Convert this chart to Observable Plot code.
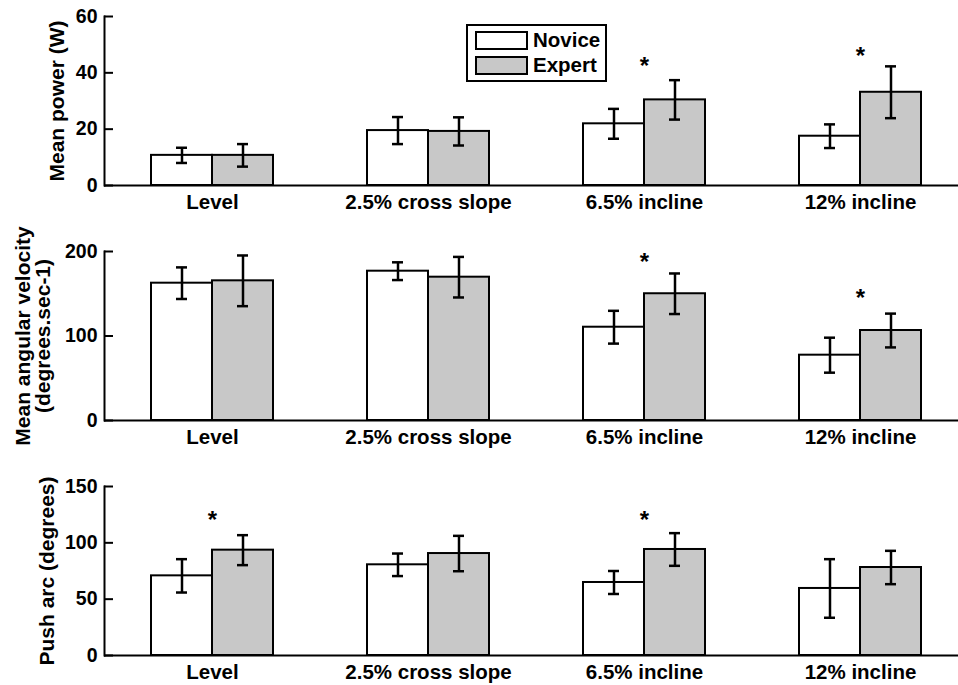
<!DOCTYPE html>
<html>
<head>
<meta charset="utf-8">
<script src="https://cdn.jsdelivr.net/npm/d3@7"></script>
<script src="https://cdn.jsdelivr.net/npm/@observablehq/plot@0.6"></script>
<style>
  html, body { margin: 0; padding: 0; background: #fff; overflow: hidden; }
  #wrap { position: relative; width: 958px; height: 685px; }
  #wrap svg { display: block; overflow: visible; }
  .legend { position: absolute; left: 466px; top: 24px; width: 137px; height: 54px;
    border: 2px solid #000; background: #fff; font: bold 20.5px "Liberation Sans", Arial, sans-serif; }
  .legend .row { position: absolute; left: 7px; height: 18px; display: flex; align-items: center; }
  .legend .sw { width: 49px; height: 15px; border: 2px solid #000; margin-right: 5px; }
  .legend .lab { line-height: 18px; }
</style>
</head>
<body>
<div id="wrap"></div>
<script>
const conditions = ["Level", "2.5% cross slope", "6.5% incline", "12% incline"];
const groups = ["Novice", "Expert"];
const groupColors = ["#ffffff", "#c8c8c8"];

// Mean power (W)
const powerNovice = [10.7, 19.5, 21.9, 17.5];
const powerNoviceSD = [2.7, 4.8, 5.3, 4.2];
const powerExpert = [10.7, 19.2, 30.4, 33.1];
const powerExpertSD = [4.0, 5.0, 7.0, 9.2];
const powerStars = [{cond: "6.5% incline", y: 43.3}, {cond: "12% incline", y: 46.9}];

// Mean angular velocity (degrees.sec-1)
const velNovice = [162.5, 176.7, 110.4, 77.3];
const velNoviceSD = [18.7, 10.5, 19.4, 20.7];
const velExpert = [165.3, 169.6, 150.0, 106.5];
const velExpertSD = [30.0, 24.0, 24.0, 20.0];
const velStars = [{cond: "6.5% incline", y: 191}, {cond: "12% incline", y: 148}];

// Push arc (degrees)
const arcNovice = [70.7, 80.5, 64.8, 59.5];
const arcNoviceSD = [14.8, 10.0, 10.2, 26.0];
const arcExpert = [93.5, 90.5, 94.1, 78.1];
const arcExpertSD = [13.3, 15.7, 14.5, 14.8];
const arcStars = [{cond: "Level", y: 122.8}, {cond: "6.5% incline", y: 122.8}];

const FONT = '"Liberation Sans", Arial, Helvetica, sans-serif';
const FS_LABEL = 21;
const FS_X = 20.5;
const FS_TICK = 19.5;

function rowsOf(nov, novSD, exp, expSD) {
  const rows = [];
  conditions.forEach((c, i) => {
    rows.push({cond: c, group: "Novice", value: nov[i], lo: nov[i] - novSD[i], hi: nov[i] + novSD[i]});
    rows.push({cond: c, group: "Expert", value: exp[i], lo: exp[i] - expSD[i], hi: exp[i] + expSD[i]});
  });
  return rows;
}

function panel({rows, stars, yMax, yTicks, label, labelDx, height, marginBottom}) {
  return Plot.plot({
    width: 958,
    height,
    marginTop: 16,
    marginBottom,
    marginLeft: 103,
    marginRight: 0,
    style: {fontFamily: FONT, fontSize: FS_X + "px", fontWeight: "bold", color: "#000", background: "transparent"},
    fx: {domain: conditions, padding: 0, range: [103, 968], label: null},
    x: {domain: groups, paddingInner: 0, paddingOuter: 0.742, axis: null},
    y: {domain: [0, yMax], label: null},
    color: {domain: groups, range: groupColors},
    marks: [
      Plot.barY(rows, {fx: "cond", x: "group", y: "value", fill: "group", stroke: "#000", strokeWidth: 2}),
      Plot.ruleX(rows, {fx: "cond", x: "group", y1: "lo", y2: "hi", stroke: "#000", strokeWidth: 2.5}),
      Plot.tickY(rows, {fx: "cond", x: "group", y: "lo", stroke: "#000", strokeWidth: 2.5, insetLeft: 25, insetRight: 25}),
      Plot.tickY(rows, {fx: "cond", x: "group", y: "hi", stroke: "#000", strokeWidth: 2.5, insetLeft: 25, insetRight: 25}),
      Plot.ruleY([0], {stroke: "#000", strokeWidth: 2}),
      Plot.frame({anchor: "left", facetAnchor: "left", stroke: "#000", strokeWidth: 2}),
      Plot.text(stars, {fx: "cond", y: "y", text: () => "*", fontSize: 24, fontWeight: "bold", dy: 3}),
      Plot.axisY({ticks: yTicks, tickSize: -9, tickPadding: 16, tickFormat: d => String(d), label: null, strokeWidth: 2, fontSize: FS_TICK}),
      Plot.axisFx({anchor: "bottom", tickSize: 0, tickPadding: 9, label: null, fontSize: FS_X}),
      Plot.text([label], {facet: "super", frameAnchor: "left", rotate: -90, dx: labelDx, textAnchor: "middle", lineAnchor: "middle", fontSize: FS_LABEL, fontWeight: "bold", lineHeight: 0.98})
    ]
  });
}

const wrap = document.getElementById("wrap");
wrap.appendChild(panel({
  rows: rowsOf(powerNovice, powerNoviceSD, powerExpert, powerExpertSD),
  stars: powerStars, yMax: 60, yTicks: [0, 20, 40, 60],
  label: "Mean power (W)", labelDx: -47, height: 235, marginBottom: 50
}));
wrap.appendChild(panel({
  rows: rowsOf(velNovice, velNoviceSD, velExpert, velExpertSD),
  stars: velStars, yMax: 200, yTicks: [0, 100, 200],
  label: "Mean angular velocity\n(degrees.sec-1)", labelDx: -71, height: 235, marginBottom: 50
}));
wrap.appendChild(panel({
  rows: rowsOf(arcNovice, arcNoviceSD, arcExpert, arcExpertSD),
  stars: arcStars, yMax: 150, yTicks: [0, 50, 100, 150],
  label: "Push arc (degrees)", labelDx: -57, height: 215, marginBottom: 30
}));

const legend = document.createElement("div");
legend.className = "legend";
groups.forEach((g, i) => {
  const row = document.createElement("div");
  row.className = "row";
  row.style.top = (i === 0 ? 5 : 30) + "px";
  const sw = document.createElement("div");
  sw.className = "sw";
  sw.style.background = groupColors[i];
  const lab = document.createElement("span");
  lab.className = "lab";
  lab.textContent = g;
  row.appendChild(sw);
  row.appendChild(lab);
  legend.appendChild(row);
});
wrap.appendChild(legend);
</script>
</body>
</html>
